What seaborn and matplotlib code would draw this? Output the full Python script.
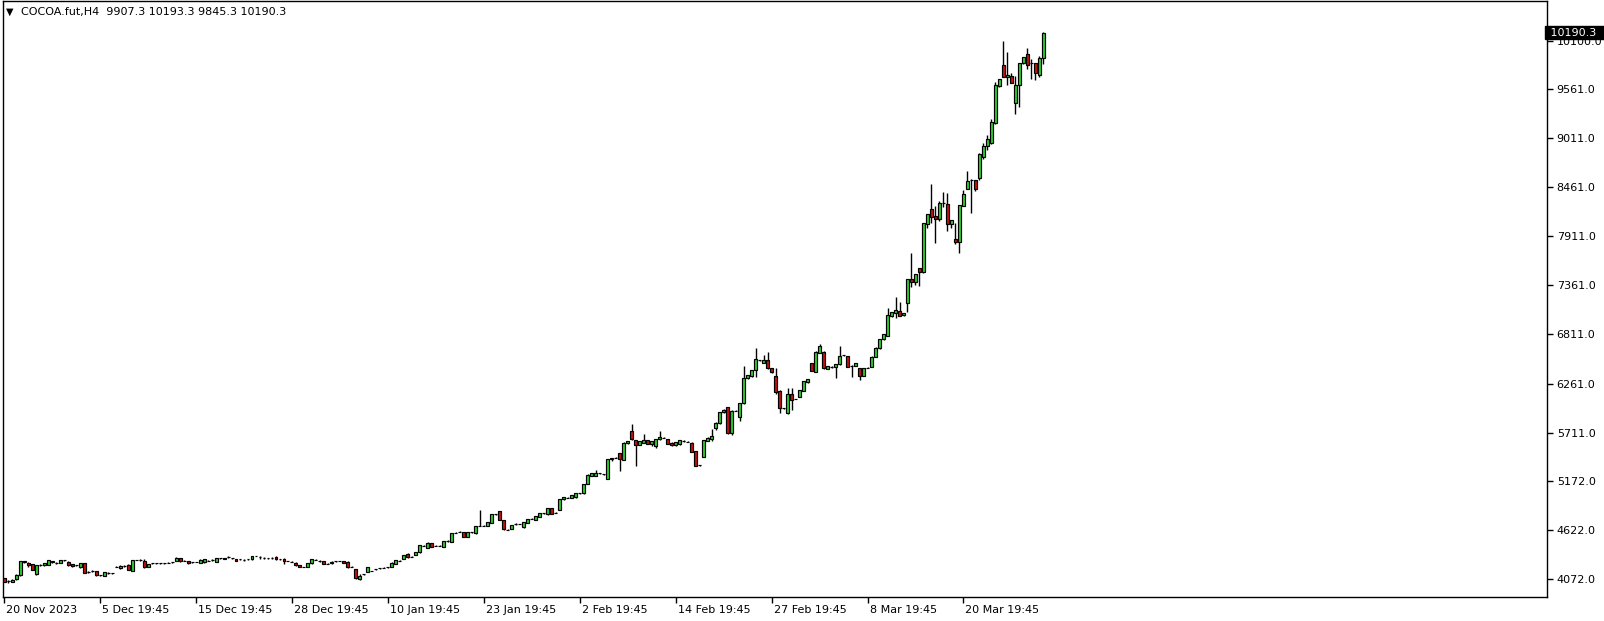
"""
COCOA.fut H4 candlestick chart, MetaTrader style.
"""

import numpy as np
import pandas as pd
import matplotlib
matplotlib.use("Agg")
import matplotlib.pyplot as plt
from matplotlib.transforms import ScaledTranslation, blended_transform_factory
import seaborn as sns

# -------------------------------------------------------
# Data (one value per H4 bar)
# -------------------------------------------------------
symbol = "COCOA.fut,H4"

opens = [
    4079, 4048, 4040, 4072, 4112, 4273, 4255, 4240, 4130, 4232,
    4225, 4232, 4268, 4255, 4255, 4285, 4266, 4238, 4225, 4203,
    4247, 4147, 4165, 4158, 4113, 4106, 4143, 4135, 4210, 4191,
    4221, 4229, 4165, 4285, 4285, 4277, 4210, 4247, 4247, 4247,
    4247, 4255, 4259, 4277, 4303, 4277, 4270, 4259, 4262, 4255,
    4259, 4277, 4285, 4266, 4303, 4303, 4315, 4303, 4296, 4292,
    4285, 4292, 4292, 4330, 4315, 4307, 4303, 4311, 4322, 4292,
    4296, 4273, 4266, 4255, 4229, 4206, 4210, 4247, 4288, 4277,
    4273, 4244, 4247, 4270, 4273, 4273, 4266, 4210, 4180, 4072,
    4124, 4154, 4162, 4180, 4190, 4199, 4203, 4210, 4240, 4277,
    4300, 4355, 4322, 4341, 4371, 4445, 4423, 4471, 4445, 4445,
    4434, 4497, 4490, 4591, 4602, 4594, 4546, 4594, 4583, 4665,
    4669, 4669, 4703, 4796, 4833, 4733, 4624, 4635, 4688, 4688,
    4650, 4703, 4748, 4733, 4770, 4807, 4796, 4863, 4815, 4845,
    4964, 4983, 4983, 4987, 5031, 5031, 5136, 5225, 5225, 5255,
    5244, 5196, 5415, 5430, 5478, 5404, 5591, 5729, 5628, 5572,
    5598, 5628, 5580, 5561, 5636, 5655, 5636, 5598, 5568, 5580,
    5621, 5610, 5598, 5505, 5345, 5441, 5621, 5643, 5759, 5815,
    5938, 5994, 5711, 5957, 5890, 6039, 6319, 6341, 6412, 6524,
    6494, 6524, 6431, 6345, 6181, 5983, 5927, 6144, 6088, 6114,
    6181, 6274, 6487, 6394, 6607, 6618, 6424, 6450, 6442, 6476,
    6584, 6569, 6461, 6457, 6431, 6349, 6438, 6450, 6562, 6655,
    6756, 6797, 7021, 7055, 7074, 7025, 7159, 7432, 7402, 7551,
    7506, 8044, 8212, 8137, 8100, 8279, 8272, 8044, 7880, 7846,
    8253, 8439, 8540, 8540, 8559, 8800, 8920, 8960, 9183, 9593,
    9828, 9690, 9705, 9399, 9600, 9847, 9955, 9850, 9847, 9720,
    9907.3,
]

highs = [
    4085, 4060, 4070, 4125, 4276, 4278, 4262, 4245, 4232, 4236,
    4255, 4290, 4272, 4265, 4290, 4290, 4270, 4242, 4230, 4252,
    4250, 4158, 4175, 4162, 4116, 4150, 4146, 4138, 4222, 4225,
    4224, 4235, 4290, 4290, 4295, 4300, 4245, 4256, 4255, 4250,
    4256, 4262, 4262, 4315, 4310, 4280, 4274, 4267, 4265, 4292,
    4300, 4280, 4293, 4312, 4306, 4305, 4325, 4306, 4300, 4300,
    4293, 4300, 4330, 4333, 4330, 4315, 4311, 4314, 4326, 4295,
    4305, 4276, 4269, 4260, 4233, 4209, 4250, 4296, 4291, 4280,
    4277, 4247, 4270, 4273, 4276, 4277, 4270, 4213, 4184, 4128,
    4127, 4206, 4165, 4188, 4198, 4207, 4206, 4258, 4288, 4280,
    4345, 4360, 4325, 4378, 4457, 4448, 4483, 4475, 4448, 4453,
    4500, 4505, 4587, 4599, 4605, 4598, 4598, 4597, 4669, 4845,
    4672, 4710, 4800, 4804, 4838, 4737, 4627, 4677, 4696, 4691,
    4710, 4748, 4751, 4781, 4811, 4810, 4867, 4867, 4818, 4972,
    4991, 4986, 5013, 5035, 5034, 5140, 5244, 5259, 5292, 5262,
    5247, 5419, 5430, 5433, 5482, 5602, 5621, 5808, 5632, 5621,
    5692, 5632, 5621, 5644, 5730, 5658, 5640, 5602, 5610, 5632,
    5630, 5613, 5602, 5509, 5353, 5632, 5659, 5750, 5827, 5942,
    5976, 5998, 5961, 5965, 6043, 6461, 6360, 6416, 6655, 6530,
    6580, 6610, 6435, 6431, 6185, 5987, 6207, 6207, 6091, 6192,
    6293, 6315, 6491, 6625, 6700, 6622, 6461, 6460, 6484, 6680,
    6586, 6573, 6465, 6491, 6435, 6435, 6442, 6566, 6667, 6764,
    6816, 7104, 7066, 7235, 7178, 7055, 7436, 7720, 7492, 7555,
    8059, 8160, 8495, 8250, 8309, 8409, 8400, 8096, 8056, 8261,
    8424, 8640, 8548, 8544, 8840, 8950, 9050, 9220, 9640, 9672,
    10097, 9970, 9740, 9705, 9850, 9918, 10018, 9895, 9850, 9930,
    10193.3,
]

lows = [
    4035, 4030, 4035, 4062, 4108, 4255, 4205, 4170, 4118, 4222,
    4218, 4228, 4255, 4245, 4252, 4278, 4220, 4205, 4218, 4195,
    4140, 4140, 4155, 4110, 4108, 4102, 4132, 4130, 4206, 4188,
    4210, 4170, 4160, 4280, 4275, 4198, 4205, 4238, 4238, 4244,
    4238, 4247, 4256, 4270, 4266, 4274, 4244, 4250, 4259, 4250,
    4255, 4274, 4277, 4262, 4300, 4298, 4307, 4300, 4268, 4284,
    4277, 4284, 4288, 4327, 4300, 4298, 4295, 4300, 4288, 4289,
    4245, 4270, 4263, 4222, 4203, 4203, 4206, 4243, 4285, 4266,
    4236, 4241, 4244, 4260, 4270, 4252, 4200, 4207, 4076, 4060,
    4121, 4150, 4159, 4172, 4182, 4190, 4200, 4205, 4236, 4274,
    4296, 4311, 4319, 4337, 4367, 4442, 4419, 4430, 4442, 4437,
    4430, 4489, 4486, 4583, 4599, 4542, 4540, 4591, 4579, 4660,
    4666, 4665, 4699, 4788, 4729, 4624, 4621, 4631, 4680, 4685,
    4646, 4699, 4745, 4729, 4766, 4804, 4792, 4796, 4812, 4841,
    4960, 4980, 4979, 4983, 5028, 5027, 5132, 5221, 5221, 5250,
    5241, 5192, 5390, 5427, 5285, 5400, 5587, 5632, 5341, 5568,
    5594, 5579, 5560, 5540, 5632, 5652, 5579, 5560, 5564, 5576,
    5610, 5607, 5493, 5333, 5337, 5437, 5617, 5620, 5740, 5811,
    5927, 5700, 5690, 5950, 5840, 6035, 6315, 6337, 6330, 6515,
    6490, 6427, 6382, 6140, 5935, 5979, 5923, 5965, 6085, 6110,
    6177, 6270, 6401, 6390, 6603, 6427, 6420, 6440, 6319, 6472,
    6570, 6446, 6330, 6453, 6300, 6345, 6434, 6446, 6558, 6651,
    6752, 6793, 7010, 7000, 7017, 7020, 7062, 7346, 7365, 7357,
    7502, 8000, 8055, 7831, 8086, 8242, 7972, 7999, 7823, 7726,
    8249, 8435, 8167, 8420, 8540, 8780, 8880, 8940, 9170, 9585,
    9690, 9600, 9626, 9280, 9354, 9840, 9780, 9675, 9660, 9700,
    9845.3,
]

closes = [
    4042, 4052, 4066, 4117, 4273, 4259, 4228, 4175, 4229, 4230,
    4247, 4285, 4266, 4256, 4285, 4284, 4229, 4212, 4224, 4247,
    4143, 4148, 4166, 4113, 4112, 4147, 4143, 4134, 4211, 4218,
    4220, 4173, 4285, 4284, 4286, 4203, 4240, 4248, 4246, 4246,
    4248, 4256, 4258, 4307, 4273, 4276, 4247, 4260, 4261, 4285,
    4292, 4276, 4286, 4307, 4302, 4301, 4316, 4302, 4273, 4293,
    4286, 4293, 4326, 4329, 4316, 4308, 4304, 4310, 4292, 4291,
    4270, 4272, 4265, 4225, 4206, 4205, 4247, 4292, 4287, 4276,
    4240, 4243, 4266, 4269, 4272, 4255, 4203, 4209, 4080, 4110,
    4123, 4203, 4161, 4181, 4191, 4200, 4202, 4255, 4285, 4276,
    4341, 4315, 4321, 4374, 4453, 4444, 4479, 4434, 4444, 4446,
    4497, 4498, 4583, 4592, 4601, 4546, 4594, 4593, 4665, 4669,
    4668, 4706, 4796, 4797, 4733, 4628, 4623, 4673, 4689, 4687,
    4706, 4744, 4747, 4777, 4807, 4806, 4863, 4800, 4814, 4968,
    4987, 4982, 5009, 5031, 5030, 5136, 5240, 5255, 5255, 5256,
    5243, 5415, 5427, 5429, 5412, 5598, 5617, 5636, 5572, 5617,
    5628, 5583, 5617, 5640, 5666, 5654, 5583, 5568, 5606, 5628,
    5622, 5609, 5497, 5337, 5346, 5628, 5655, 5673, 5823, 5938,
    5964, 5711, 5953, 5958, 6039, 6319, 6356, 6412, 6536, 6525,
    6524, 6431, 6386, 6170, 5983, 5984, 6144, 6077, 6087, 6188,
    6289, 6311, 6405, 6618, 6681, 6431, 6457, 6451, 6480, 6569,
    6576, 6450, 6462, 6487, 6349, 6431, 6439, 6562, 6663, 6760,
    6812, 7029, 7062, 7085, 7021, 7051, 7432, 7402, 7488, 7514,
    8055, 8156, 8130, 8100, 8279, 8281, 8044, 8092, 7850, 8257,
    8387, 8525, 8541, 8439, 8830, 8920, 9000, 9186, 9604, 9668,
    9697, 9716, 9630, 9604, 9847, 9914, 9824, 9852, 9742, 9907,
    10190.3,
]

# bar index of each time-axis label
date_bars = [0, 24, 48, 72, 96, 120, 144, 168, 192, 216, 240]
date_labels = ["20 Nov 2023", "5 Dec 19:45", "15 Dec 19:45", "28 Dec 19:45",
               "10 Jan 19:45", "23 Jan 19:45", "2 Feb 19:45", "14 Feb 19:45",
               "27 Feb 19:45", "8 Mar 19:45", "20 Mar 19:45"]
price_ticks = [4072.0, 4622.0, 5172.0, 5711.0, 6261.0, 6811.0, 7361.0,
               7911.0, 8461.0, 9011.0, 9561.0, 10100.0]

# -------------------------------------------------------
# Style
# -------------------------------------------------------
sns.set_theme(style="white")
plt.rcParams["font.family"] = ["DejaVu Sans"]
plt.rcParams.update({
    "figure.facecolor": "white",
    "axes.facecolor":   "white",
    "axes.edgecolor":   "black",
    "axes.linewidth":   1.0,
})

BULL = "#2fd12f"
BEAR = "#cc1010"

df = pd.DataFrame({"open": opens, "high": highs, "low": lows, "close": closes})
df["bar"] = np.arange(len(df))
df["up"] = df["close"] >= df["open"]
df["body_lo"] = df[["open", "close"]].min(axis=1)
df["body_h"] = (df["close"] - df["open"]).abs()

W, H, DPI = 1604, 621, 100
fig = plt.figure(figsize=(W / DPI, H / DPI), dpi=DPI)
ax = fig.add_axes([3 / W, 24 / H, 1544 / W, 596 / H])

# wicks then bodies
ax.vlines(df["bar"], df["low"], df["high"], color="black", lw=1.0, zorder=2)
ax.bar(df["bar"], df["body_h"], bottom=df["body_lo"], width=0.74,
       color=np.where(df["up"], BULL, BEAR), edgecolor="black",
       linewidth=0.85, zorder=3)

ax.set_xlim(-0.3, 386)
ax.set_ylim(3870, 10546)

# price scale on the right
ax.yaxis.tick_right()
ax.set_yticks(price_ticks)
ax.set_yticklabels([f"{v:.1f}" for v in price_ticks])
ax.tick_params(axis="y", direction="out", length=4, width=1, pad=3,
               labelsize=8, colors="black", right=True, left=False)

# time scale
ax.set_xticks(date_bars)
ax.set_xticklabels(date_labels, ha="left")
ax.tick_params(axis="x", direction="out", length=4, width=1, pad=2,
               labelsize=8, colors="black", bottom=True)
shift = ScaledTranslation(2 / DPI, 0, fig.dpi_scale_trans)
for lbl in ax.get_xticklabels():
    lbl.set_transform(lbl.get_transform() + shift)

ax.grid(False)
for s in ax.spines.values():
    s.set_visible(True)
    s.set_color("black")

# current price tag
last = df.iloc[-1]
trans = blended_transform_factory(ax.transAxes, ax.transData)
ax.text(1.0, last["close"], f" {last['close']:.1f}  ", transform=trans,
        ha="left", va="center", fontsize=8, color="white", clip_on=False,
        bbox=dict(boxstyle="square,pad=0.15", fc="black", ec="black"))

# header
header = (f"{symbol}  {last['open']:.1f} {last['high']:.1f} "
          f"{last['low']:.1f} {last['close']:.1f}")
fig.text(21 / W, 1 - 12 / H, header, ha="left", va="center", fontsize=8,
         color="black",
         bbox=dict(boxstyle="square,pad=0.3", fc="white", ec="none"))
fig.text(6 / W, 1 - 12 / H, "▼", ha="left", va="center", fontsize=7,
         color="black")

fig.savefig("out.png", dpi=DPI)
plt.close(fig)
